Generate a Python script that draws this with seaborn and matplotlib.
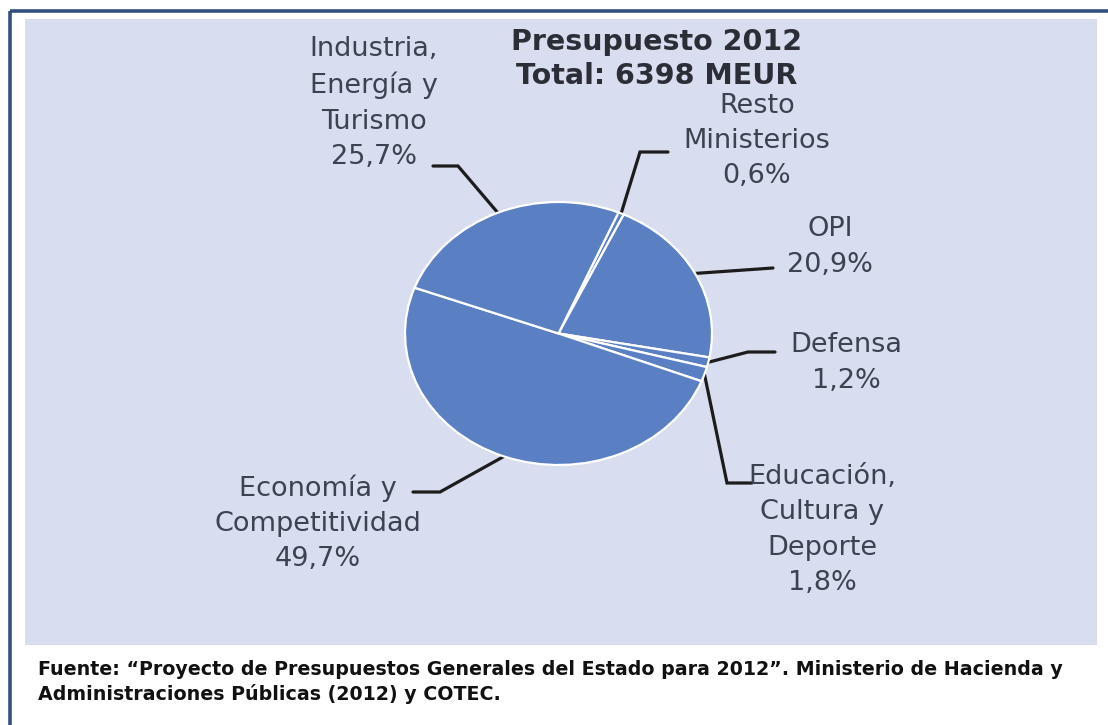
import numpy as np
import matplotlib
matplotlib.use("Agg")
import matplotlib.pyplot as plt
from matplotlib.patches import Rectangle
import seaborn as sns

# Budget shares (%) of the 2012 R&D budget by ministry, clockwise from the top
categories = ["Resto Ministerios", "OPI", "Defensa",
              "Educación, Cultura y Deporte", "Economía y Competitividad",
              "Industria, Energía y Turismo"]
shares = [0.6, 20.9, 1.2, 1.8, 49.7, 25.7]
label_texts = ["Resto\nMinisterios\n0,6%", "OPI\n20,9%", "Defensa\n1,2%",
               "Educación,\nCultura y\nDeporte\n1,8%",
               "Economía y\nCompetitividad\n49,7%",
               "Industria,\nEnergía y\nTurismo\n25,7%"]
title_text = "Presupuesto 2012\nTotal: 6398 MEUR"
source_text = ("Fuente: \u201cProyecto de Presupuestos Generales del Estado para 2012\u201d. "
               "Ministerio de Hacienda y\nAdministraciones Públicas (2012) y COTEC.")

sns.set_style("white")
plt.rcParams["font.family"] = ["DejaVu Sans"]

W, H = 1108, 725
fig = plt.figure(figsize=(W / 100, H / 100), dpi=100, facecolor="white")

# Overlay axes in pixel coordinates for the panel, frame, labels and leader lines
ax = fig.add_axes([0, 0, 1, 1])
ax.set_xlim(0, W)
ax.set_ylim(H, 0)
ax.axis("off")

frame_col = "#34507e"
panel_col = "#d8ddf0"
ax.add_patch(Rectangle((25, 19), 1072, 626, facecolor=panel_col, edgecolor="none", zorder=0))
ax.plot([9.5, W], [10.5, 10.5], color=frame_col, lw=2.6, solid_capstyle="butt", zorder=1)
ax.plot([9.5, 9.5], [10.5, H], color=frame_col, lw=2.6, solid_capstyle="butt", zorder=1)

# Elliptical pie in its own axes
x0, x1, y0, y1 = 405, 712, 202, 465
axp = fig.add_axes([x0 / W, 1 - y1 / H, (x1 - x0) / W, (y1 - y0) / H])
wedges, _ = axp.pie(shares, startangle=67, counterclock=False, radius=1,
                    colors=["#5a7fc2"] * len(shares),
                    wedgeprops=dict(edgecolor="white", linewidth=1.6))
axp.set_aspect("auto")
axp.set_xlim(-1, 1)
axp.set_ylim(-1, 1)
axp.axis("off")


def edge_point(w):
    """Pixel position of the wedge's mid-angle on the pie rim."""
    th = np.deg2rad((w.theta1 + w.theta2) / 2)
    disp = axp.transData.transform((np.cos(th), np.sin(th)))
    return ax.transData.inverted().transform(disp)


# Leader line elbows (pixel coords) and label anchors for each category
elbows = {
    "Resto Ministerios": [(640, 152), (668, 152)],
    "OPI": [(773, 268)],
    "Defensa": [(748, 352), (775, 352)],
    "Educación, Cultura y Deporte": [(727, 483), (752, 483)],
    "Economía y Competitividad": [(440, 492), (413, 492)],
    "Industria, Energía y Turismo": [(458, 166), (433, 166)],
}
label_pos = {
    "Resto Ministerios": (757, 141),
    "OPI": (830, 247),
    "Defensa": (846, 363),
    "Educación, Cultura y Deporte": (822, 530),
    "Economía y Competitividad": (318, 523),
    "Industria, Energía y Turismo": (374, 103),
}

for w, cat, txt in zip(wedges, categories, label_texts):
    p = edge_point(w)
    pts = [tuple(p)] + elbows[cat]
    xs, ys = zip(*pts)
    ax.plot(xs, ys, color="#1c1c1c", lw=2.3, solid_joinstyle="miter", zorder=3)
    lx, ly = label_pos[cat]
    ax.text(lx, ly, txt, ha="center", va="center", fontsize=19.5,
            color="#3d4250", linespacing=1.46, zorder=4)

ax.text(657, 59, title_text, ha="center", va="center", fontsize=20.5,
        fontweight="bold", color="#2b2e36", linespacing=1.25, zorder=4)

ax.text(38, 682, source_text, ha="left", va="center", fontsize=13.7,
        fontweight="bold", family=["DejaVu Sans"],
        color="#111111", linespacing=1.35, zorder=4)

fig.savefig("out.png", dpi=100, facecolor="white")
